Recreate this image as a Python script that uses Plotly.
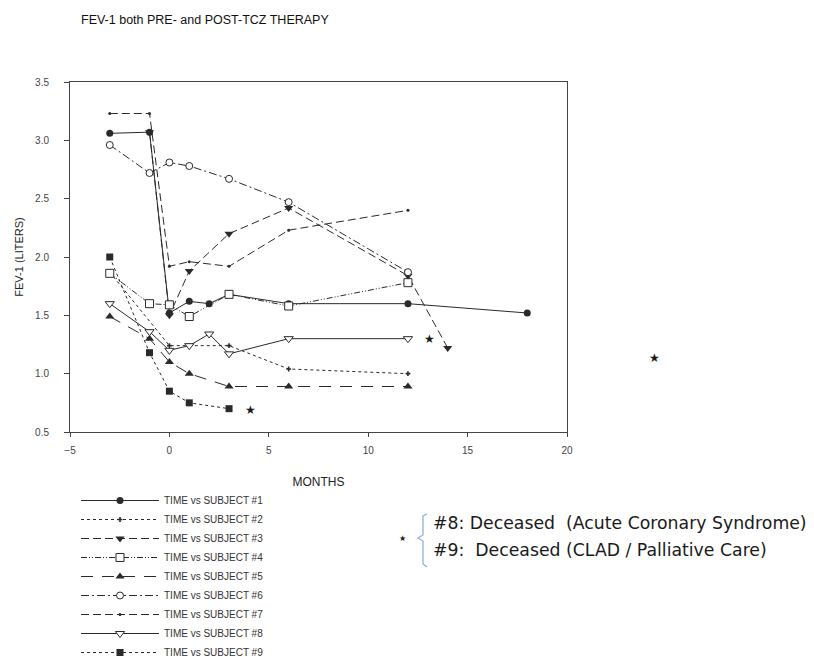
import plotly.graph_objects as go

# ---- data ----
subjects = ["TIME vs SUBJECT #1", "TIME vs SUBJECT #2", "TIME vs SUBJECT #3",
            "TIME vs SUBJECT #4", "TIME vs SUBJECT #5", "TIME vs SUBJECT #6",
            "TIME vs SUBJECT #7", "TIME vs SUBJECT #8", "TIME vs SUBJECT #9"]

s1_x = [-3, -1, 0, 1, 2, 3, 6, 12, 18]
s1_y = [3.06, 3.07, 1.52, 1.62, 1.60, 1.68, 1.60, 1.60, 1.52]
s2_x = [-3, 0, 1, 3, 6, 12]
s2_y = [1.87, 1.24, 1.24, 1.24, 1.04, 1.00]
s3_x = [-1, 0, 1, 3, 6, 12, 14]
s3_y = [3.07, 1.50, 1.88, 2.20, 2.42, 1.84, 1.22]
s4_x = [-3, -1, 0, 1, 3, 6, 12]
s4_y = [1.86, 1.60, 1.59, 1.49, 1.68, 1.58, 1.78]
s5_x = [-3, -1, 0, 1, 3, 6, 12]
s5_y = [1.49, 1.30, 1.10, 1.00, 0.89, 0.89, 0.89]
s6_x = [-3, -1, 0, 1, 3, 6, 12]
s6_y = [2.96, 2.72, 2.81, 2.78, 2.67, 2.47, 1.87]
s7_x = [-3, -1, 0, 1, 3, 6, 12]
s7_y = [3.23, 3.23, 1.92, 1.96, 1.92, 2.23, 2.40]
s8_x = [-3, -1, 0, 1, 2, 3, 6, 12]
s8_y = [1.60, 1.36, 1.20, 1.24, 1.34, 1.17, 1.30, 1.30]
s9_x = [-3, -1, 0, 1, 3]
s9_y = [2.00, 1.18, 0.85, 0.75, 0.70]

x_ticks = [-5, 0, 5, 10, 15, 20]
y_ticks = [0.5, 1.0, 1.5, 2.0, 2.5, 3.0, 3.5]

deceased_notes = ["#8: Deceased  (Acute Coronary Syndrome)",
                  "#9:  Deceased (CLAD / Palliative Care)"]
star_pts_x = [4.1, 13.1]
star_pts_y = [0.69, 1.30]

# ---- styling ----
INK = "#2a2a2a"
series = [
    (s1_x, s1_y, "solid", dict(symbol="circle", size=7, color=INK)),
    (s2_x, s2_y, "dot", dict(symbol="cross", size=4, color=INK)),
    (s3_x, s3_y, "8px,4px", dict(symbol="triangle-down", size=8, color=INK)),
    (s4_x, s4_y, "6px,2px,1px,2px,1px,2px",
     dict(symbol="square", size=8, color="white", line=dict(color=INK, width=1))),
    (s5_x, s5_y, "12px,9px", dict(symbol="triangle-up", size=8, color=INK)),
    (s6_x, s6_y, "8px,3px,2px,3px",
     dict(symbol="circle", size=7, color="white", line=dict(color=INK, width=1))),
    (s7_x, s7_y, "8px,4px", dict(symbol="circle", size=3, color=INK)),
    (s8_x, s8_y, "solid",
     dict(symbol="triangle-down", size=8, color="white", line=dict(color=INK, width=1))),
    (s9_x, s9_y, "dot", dict(symbol="square", size=7, color=INK)),
]

fig = go.Figure()
for name, (xs, ys, dash, mk) in zip(subjects, series):
    fig.add_trace(go.Scatter(x=xs, y=ys, mode="lines+markers", name=name,
                             line=dict(color=INK, width=1, dash=dash),
                             marker=mk))

# page geometry (page has an 8px body margin around the figure)
OFF = 8
PW, PH = 814, 657
W, H = PW - OFF, PH - OFF
L, R, T, B = 70, 567, 82, 432          # plot area in page pixels
def px(x):
    return (x - L) / (R - L)
def py(y):
    return (B - y) / (B - T)

STAR = dict(family="DejaVu Sans", size=12, color="#1a1a1a")
annotations = []
for sx, sy in zip(star_pts_x, star_pts_y):
    annotations.append(dict(x=sx, y=sy, xref="x", yref="y", text="★", showarrow=False,
                            xanchor="center", yanchor="middle", font=STAR))
annotations.append(dict(x=px(654), y=py(358), xref="paper", yref="paper", text="★",
                        showarrow=False, xanchor="center", yanchor="middle", font=STAR))
annotations.append(dict(x=px(402), y=py(538), xref="paper", yref="paper", text="★",
                        showarrow=False, xanchor="center", yanchor="middle",
                        font=dict(family="DejaVu Sans", size=8, color="#222")))
for txt, yy in zip(deceased_notes, [523, 550]):
    annotations.append(dict(x=px(431), y=py(yy), xref="paper", yref="paper", text=txt,
                            showarrow=False, xanchor="left", yanchor="middle",
                            font=dict(family="DejaVu Sans", size=17.3, color="#1a1a1a")))
annotations.append(dict(x=px(205), y=py(20), xref="paper", yref="paper",
                        text="FEV-1 both PRE- and POST-TCZ THERAPY", showarrow=False,
                        xanchor="center", yanchor="middle",
                        font=dict(family="Liberation Sans", size=12.5, color="#111")))

bracket = ("M {a},{b} L {c},{d} L {c},{e} L {f},{g} L {c},{h} L {c},{i} L {a},{j}").format(
    a=px(427), b=py(514), c=px(423), d=py(516), e=py(535), f=px(418), g=py(538),
    h=py(541), i=py(564), j=py(567))

fig.update_layout(
    width=W, height=H,
    margin=dict(l=L - OFF, r=W - (R - OFF), t=T - OFF, b=H - (B - OFF), autoexpand=False),
    plot_bgcolor="white", paper_bgcolor="white",
    font=dict(family="Liberation Sans", color=INK),
    xaxis=dict(range=[-5, 20], tickvals=x_ticks, ticks="outside", ticklen=4,
               showline=True, linecolor="#444", linewidth=1, mirror=True, showgrid=False,
               zeroline=False, tickfont=dict(size=10, color="#444"), ticklabelstandoff=5,
               title=dict(text="MONTHS", font=dict(size=12, color="#222"), standoff=22)),
    yaxis=dict(range=[0.5, 3.5], tickvals=y_ticks, tickformat=".1f", ticks="outside",
               ticklen=5, showline=True, linecolor="#444", linewidth=1, mirror=True,
               showgrid=False, zeroline=False, tickfont=dict(size=10, color="#444"),
               ticklabelstandoff=13,
               title=dict(text="FEV-1 (LITERS)", font=dict(size=11, color="#222"), standoff=9)),
    legend=dict(x=px(76), y=py(486), xanchor="left", yanchor="top",
                bgcolor="rgba(0,0,0,0)", itemwidth=78,
                font=dict(family="Liberation Sans", size=10, color="#333")),
    annotations=annotations,
    shapes=[dict(type="path", path=bracket, xref="paper", yref="paper",
                 line=dict(color="#8fb2dd", width=1.3))],
)

fig.write_html("out.html")
